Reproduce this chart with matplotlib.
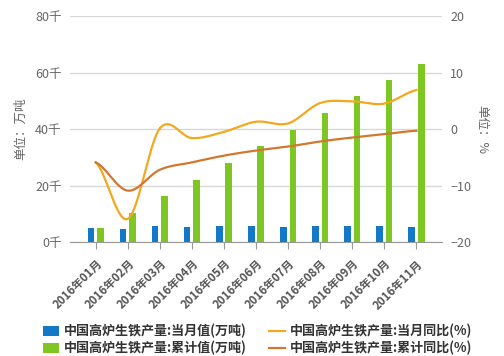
import numpy as np
import matplotlib
matplotlib.use("Agg")
from matplotlib import pyplot as plt

plt.rcParams["font.family"] = ["Noto Sans CJK SC", "DejaVu Sans"]

months = ["2016年01月", "2016年02月", "2016年03月", "2016年04月", "2016年05月", "2016年06月",
          "2016年07月", "2016年08月", "2016年09月", "2016年10月", "2016年11月"]
monthly = [5060, 4700, 5770, 5400, 5770, 5770, 5400, 5770, 5770, 5770, 5400]
cumulative = [5060, 10400, 16400, 22100, 28100, 34100, 39600, 45700, 51800, 57500, 63100]
monthly_yoy = [-5.9, -15.9, 0.1, -1.6, -0.5, 1.3, 1.0, 4.6, 4.9, 4.5, 6.9]
cumulative_yoy = [-5.9, -10.9, -7.2, -5.9, -4.7, -3.8, -3.1, -2.2, -1.5, -0.9, -0.3]

left_ticks = [0, 20000, 40000, 60000, 80000]
left_labels = ["0千", "20千", "40千", "60千", "80千"]
right_ticks = [-20, -10, 0, 10, 20]

blue = "#1478c8"
green = "#7ec622"
orange = "#f3a820"
brown = "#d27730"


def smooth(x, y, n=20):
    # catmull-rom style curve through the points (spline look)
    x = np.asarray(x, float)
    y = np.asarray(y, float)
    px = np.concatenate([[2 * x[0] - x[1]], x, [2 * x[-1] - x[-2]]])
    py = np.concatenate([[y[0]], y, [y[-1]]])
    xs, ys = [], []
    t = np.linspace(0, 1, n)
    for i in range(1, len(px) - 2):
        for p, out in ((px, xs), (py, ys)):
            p0, p1, p2, p3 = p[i - 1], p[i], p[i + 1], p[i + 2]
            out.extend(0.5 * ((2 * p1) + (-p0 + p2) * t +
                              (2 * p0 - 5 * p1 + 4 * p2 - p3) * t ** 2 +
                              (-p0 + 3 * p1 - 3 * p2 + p3) * t ** 3))
    return xs, ys


fig = plt.figure(figsize=(5.04, 3.56), dpi=100)
ax = fig.add_axes([0.139, 0.320, 0.738, 0.635])
x = np.arange(len(months))

b1 = ax.bar(x - 0.15, monthly, width=0.21, color=blue, zorder=2)
b2 = ax.bar(x + 0.15, cumulative, width=0.21, color=green, zorder=2)

ax.set_xlim(-0.8, 10.8)
ax.set_ylim(0, 80000)
ax.set_yticks(left_ticks)
ax.set_yticklabels(left_labels, fontsize=9, color="#666666")
ax.grid(axis="y", color="#d8d8d8", linewidth=1, zorder=0)
ax.set_xticks(x)
ax.set_xticklabels(months, rotation=45, ha="right", rotation_mode="anchor",
                   fontsize=8.3, color="#555555", fontweight="bold")
ax.tick_params(axis="y", length=0, pad=6)
ax.tick_params(axis="x", length=5, color="#999999", pad=6)
for s in ["top", "right", "left"]:
    ax.spines[s].set_visible(False)
ax.spines["bottom"].set_color("#999999")
ax.set_ylabel("单位：万吨", fontsize=9, color="#666666", labelpad=6)

ax2 = ax.twinx()
ax2.set_ylim(-20, 20)
ax2.set_yticks(right_ticks)
ax2.tick_params(axis="y", length=0, pad=6, labelsize=9, labelcolor="#666666")
for s in ax2.spines.values():
    s.set_visible(False)
sx, sy = smooth(x, monthly_yoy)
l1, = ax2.plot(sx, sy, color=orange, linewidth=1.6)
sx, sy = smooth(x, cumulative_yoy)
l2, = ax2.plot(sx, sy, color=brown, linewidth=1.6)
ax2.set_ylabel("单位：%", fontsize=9, color="#666666", rotation=270, labelpad=12)

fig.legend([b1, b2, l1, l2],
           ["中国高炉生铁产量:当月值(万吨)", "中国高炉生铁产量:累计值(万吨)",
            "中国高炉生铁产量:当月同比(%)", "中国高炉生铁产量:累计同比(%)"],
           ncol=2, loc="lower left", bbox_to_anchor=(0.062, -0.032), frameon=False,
           prop={"size": 9.4, "weight": "bold"}, labelcolor="#333333",
           handlelength=1.2, handleheight=0.85, columnspacing=1.7, labelspacing=0.2,
           handletextpad=0.4)

fig.savefig("out.png", dpi=100)
